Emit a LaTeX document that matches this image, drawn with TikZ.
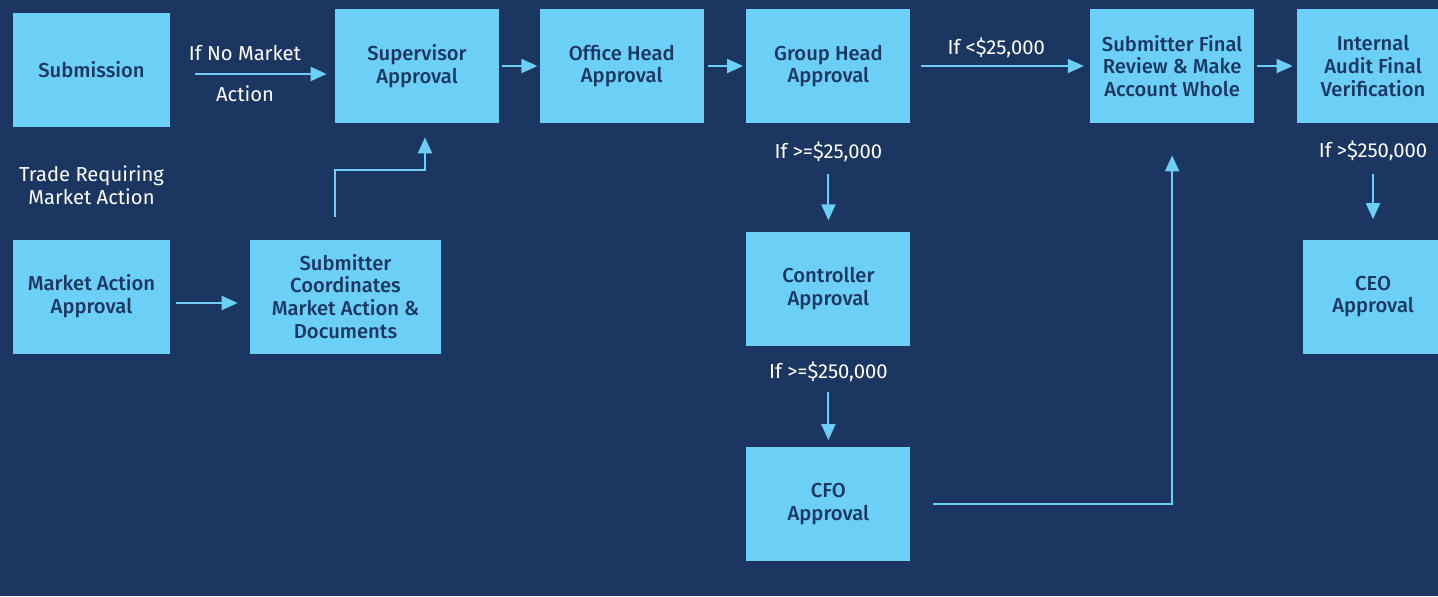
\documentclass[tikz,border=0pt]{standalone}
\usepackage{fontspec}
\setmainfont{Fira Sans}[BoldFont={Fira Sans Medium}]
\usetikzlibrary{arrows.meta, positioning}

\definecolor{navy}{HTML}{1B3761}
\definecolor{sky}{HTML}{6CCFF6}

\begin{document}
\begin{tikzpicture}
\tikzstyle{box} = [rectangle, minimum width=3.28cm, minimum height=2.28cm, text centered, align=center, fill=sky, text=navy, font=\fontsize{11.5}{13}\selectfont\bfseries, inner sep=0pt]
\tikzstyle{arrow} = [draw=sky, line width=1.1pt, -{Triangle[length=0.32cm, width=0.28cm]}]
\tikzstyle{note} = [text=white, align=center, font=\fontsize{11.5}{13}\selectfont]

\fill [navy] (0,0) rectangle (28.76,-11.92);
\useasboundingbox (0,0) rectangle (28.76,-11.92);

% top row
\node (sub) [box, minimum width=3.14cm] at (1.83,-1.40) {Submission};
\node (sup) [box] at (8.34,-1.32) {Supervisor\\Approval};
\node (off) [box, right=0.80cm of sup] {Office Head\\Approval};
\node (grp) [box, right=0.84cm of off] {Group Head\\Approval};
\node (fin) [box, right=3.58cm of grp] {Submitter Final\\Review \& Make\\Account Whole};
\node (aud) [box, minimum width=3.04cm] at (27.46,-1.32) {Internal\\Audit Final\\Verification};

% market action branch
\node (trade) [note] at (1.83,-3.70) {Trade Requiring\\Market Action};
\node (mkt) [box, minimum width=3.14cm] at (1.83,-5.93) {Market Action\\Approval};
\node (coord) [box, minimum width=3.82cm] at (6.91,-5.93) {Submitter\\Coordinates\\Market Action \&\\Documents};

% escalation
\node (ctl) [box, below=2.16cm of grp] {Controller\\Approval};
\node (cfo) [box, below=2.02cm of ctl] {CFO\\Approval};
\node (ceo) [box, minimum width=2.8cm] at (27.46,-5.93) {CEO\\Approval};

\coordinate (bend) at (8.50,-3.40);

\draw [arrow, shorten <=0.5cm, shorten >=0.16cm] ([yshift=-0.08cm]sub.east) -- ([yshift=-0.08cm]sub.east -| sup.west)
  node [note, midway, above=0.12cm, xshift=-0.15cm] {If No Market}
  node [note, midway, below=0.10cm, xshift=-0.15cm] {Action};
\draw [arrow, shorten <=0.12cm, shorten >=0.24cm] ([yshift=-0.13cm]mkt.east) -- ([yshift=-0.13cm]mkt.east -| coord.west);
\draw [arrow, shorten <=0.44cm, shorten >=0.28cm] ([xshift=-0.21cm]coord.north) -- ([xshift=-0.21cm]coord.north |- bend) -- (bend) -- (bend |- sup.south);

\draw [arrow, shorten <=0.06cm, shorten >=0.04cm] (sup) -- (off);
\draw [arrow, shorten <=0.08cm, shorten >=0.06cm] (off) -- (grp);
\draw [arrow, shorten <=0.2cm, shorten >=0.12cm] (grp) -- node [note, above=0.02cm, xshift=-0.08cm] {If <\$25,000} (fin);
\draw [arrow, shorten <=0.06cm, shorten >=0.08cm] (fin.east) -- (fin.east -| aud.west);

\draw [arrow, shorten <=1.02cm, shorten >=0.22cm] (grp) -- node [note, pos=0.26, fill=navy] {If >=\$25,000} (ctl);
\draw [arrow, shorten <=0.92cm, shorten >=0.14cm] (ctl) -- node [note, pos=0.26, fill=navy] {If >=\$250,000} (cfo);
\draw [arrow, shorten <=1.02cm, shorten >=0.4cm] (aud.south) -- node [note, pos=0.24, fill=navy] {If >\$250,000} (aud.south |- ceo.north);
\draw [arrow, shorten <=0.44cm, shorten >=0.64cm] (cfo.east) -| (fin.south);

\end{tikzpicture}
\end{document}
